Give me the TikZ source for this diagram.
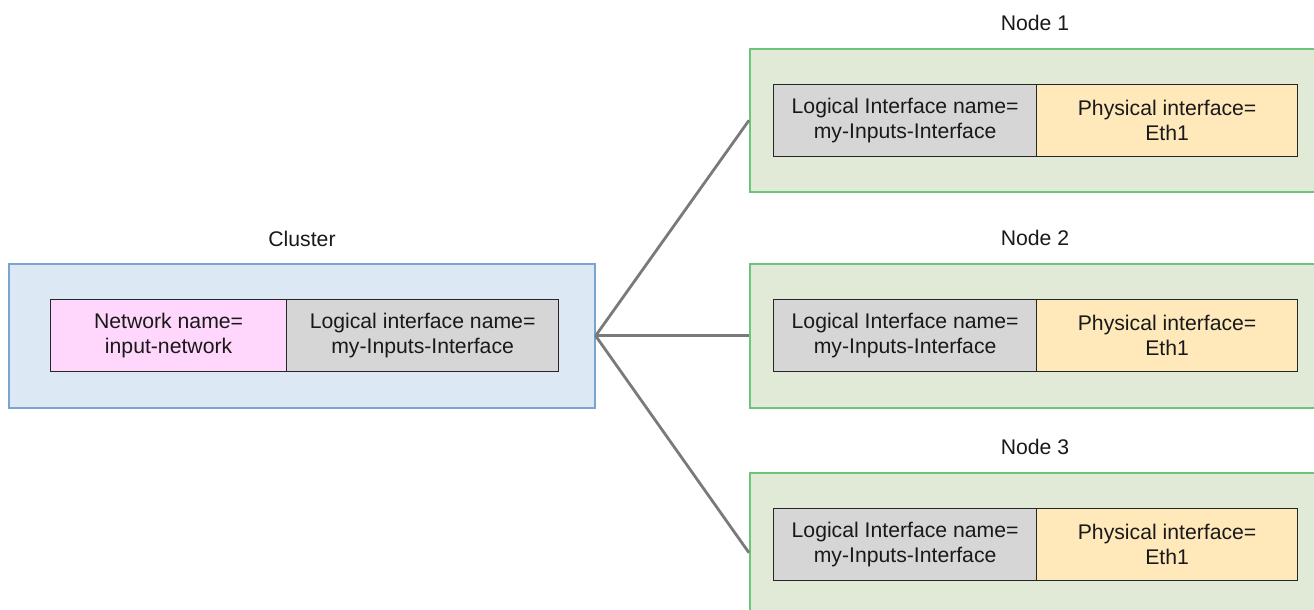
\documentclass[tikz,border=0pt]{standalone}
\usepackage{fontspec}
\setmainfont{Liberation Sans}
\definecolor{clusterFill}{HTML}{DCE8F4}
\definecolor{clusterLine}{HTML}{7AA3CF}
\definecolor{hostFill}{HTML}{E1EAD7}
\definecolor{hostLine}{HTML}{6FC47C}
\definecolor{netFill}{HTML}{FFD6FC}
\definecolor{logFill}{HTML}{D6D6D6}
\definecolor{physFill}{HTML}{FFE9BA}
\begin{document}
\begin{tikzpicture}[x=1pt, y=-1pt]
% Network layout drawn at pixel scale
\providecommand{\linkColor}{black!52}
\providecommand{\linkWidth}{2.8pt}
\providecommand{\cellHeight}{72}
\tikzset{
  group/.style={draw, line width=1.6pt, anchor=north west, inner sep=0pt},
  cell/.style={draw=black!85, line width=1.2pt, anchor=north west, inner sep=0pt,
    minimum height=\cellHeight, align=center, text=black!90,
    font=\fontsize{21.2}{25}\selectfont},
  caption/.style={text=black!90, font=\fontsize{21.2}{25}\selectfont},
  link/.style={draw=\linkColor, line width=\linkWidth}
}
\useasboundingbox (0,0) rectangle (1314,610);
% Cluster
\node[caption] (clusterlabel) at (302,239) {Cluster};
\node[group, fill=clusterFill, draw=clusterLine, minimum width=586, minimum height=144] (cluster) at (8,263) {};
\node[cell, fill=netFill, minimum width=236] (netname) at (50,299) {Network name=\\input-network};
\node[cell, fill=logFill, minimum width=272] (clusterif) at (286,299) {Logical interface name=\\my-Inputs-Interface};
% Nodes
\foreach \i/\y/\h in {1/48/143, 2/263/144, 3/472/160} {
  \node[caption] (nodelabel\i) at (1035,\y-25) {Node \i};
  \node[group, fill=hostFill, draw=hostLine, minimum width=575, minimum height=\h] (node\i) at (749,\y) {};
  \node[cell, fill=logFill, minimum width=263] (logif\i) at (773,\y+36) {Logical Interface name=\\my-Inputs-Interface};
  \node[cell, fill=physFill, minimum width=261] (physif\i) at (1036,\y+36) {Physical interface=\\Eth1};
  % Connector
  \draw[link] (cluster.east) -- (node\i.west);
}
\end{tikzpicture}
\end{document}
